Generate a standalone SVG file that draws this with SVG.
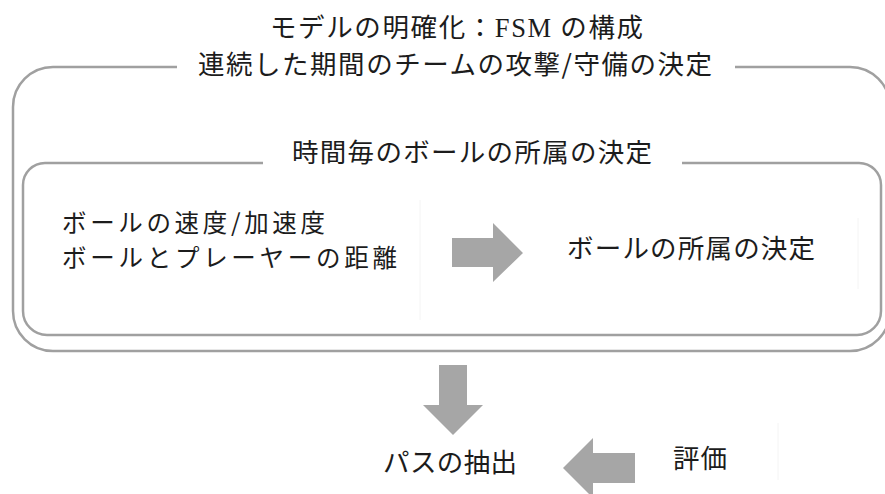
<svg xmlns="http://www.w3.org/2000/svg" width="885" height="494" viewBox="0 0 885 494">
<style>
.t{font-family:"Noto Sans CJK JP","Noto Sans CJK SC",sans-serif;font-size:26.5px;fill:#1c1c1c}
.m{font-size:24.5px}
.s{font-family:"Liberation Serif",serif}
.box{fill:none;stroke:#a0a0a0;stroke-width:2.5}
.arw{fill:#a6a6a6;stroke:none}
.faint{stroke:#f4f4f4;stroke-width:1;fill:none}
</style>
<rect width="885" height="494" fill="#ffffff"/>
<g id="faint-lines">
<line class="faint" x1="420" y1="200" x2="420" y2="320"/>
<line class="faint" x1="858" y1="218" x2="858" y2="289"/>
<line class="faint" x1="778" y1="423" x2="778" y2="480"/>
</g>
<g id="title">
<text class="t" x="270" y="37" textLength="373" lengthAdjust="spacing">モデルの明確化：<tspan class="s">FSM</tspan> の構成</text>
</g>
<g id="outer-box">
<path class="box" d="M177,67 H53 A40,40 0 0 0 13,107 V311 A40,40 0 0 0 53,351 H850 A40,40 0 0 0 890,311 V107 A40,40 0 0 0 850,67 H735"/>
<text class="t" x="198" y="74" textLength="514" lengthAdjust="spacing">連続した期間のチームの攻撃/守備の決定</text>
</g>
<g id="inner-box">
<path class="box" d="M263,163 H45 A22,22 0 0 0 23,185 V311 A24,24 0 0 0 47,335 H857 A24,24 0 0 0 881,311 V185 A22,22 0 0 0 859,163 H682"/>
<text class="t" x="292" y="162" textLength="360" lengthAdjust="spacing">時間毎のボールの所属の決定</text>
</g>
<g id="node-inputs">
<text class="t m" x="62" y="232" textLength="263" lengthAdjust="spacing">ボールの速度/加速度</text>
<text class="t m" x="62" y="267" textLength="335" lengthAdjust="spacing">ボールとプレーヤーの距離</text>
</g>
<g id="node-ownership">
<text class="t" x="567" y="258" textLength="248" lengthAdjust="spacing">ボールの所属の決定</text>
</g>
<g id="node-path">
<text class="t" x="383" y="472" textLength="134" lengthAdjust="spacing">パスの抽出</text>
</g>
<g id="node-eval">
<text class="t" x="673" y="468" textLength="54" lengthAdjust="spacing">評価</text>
</g>
<g id="connectors">
<polygon class="arw" points="452,238 493,238 493,223 523,253 493,282 493,267 452,267"/>
<polygon class="arw" points="439,365 467,365 467,405 483,405 453,435 423,405 439,405"/>
<polygon class="arw" points="635,453 593,453 593,438 563,468 593,498 593,483 635,483"/>
</g>
</svg>
